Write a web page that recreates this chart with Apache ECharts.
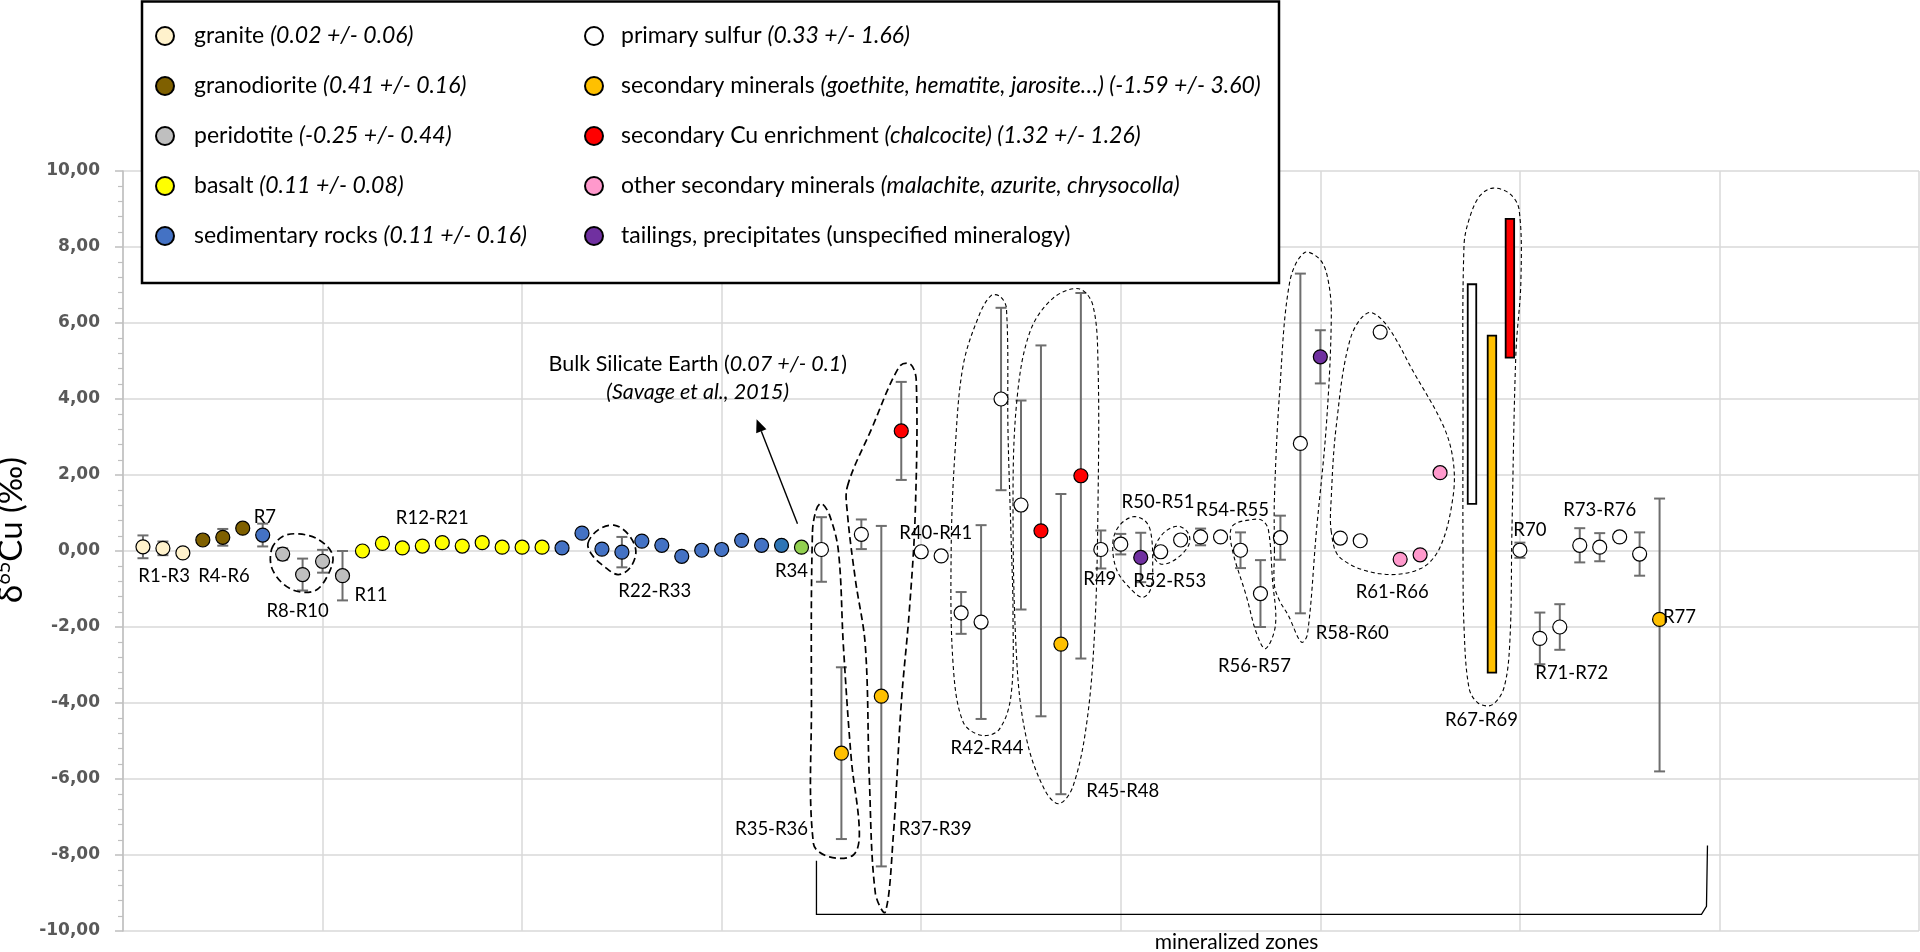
<!DOCTYPE html>
<html><head><meta charset="utf-8">
<script src="https://cdn.jsdelivr.net/npm/echarts@6/dist/echarts.min.js"></script>
<style>html,body{margin:0;padding:0;background:#fff}#c{width:1920px;height:952px}</style>
</head><body><div id="c"></div>
<script>
// ---------- data ----------
const yTickValues = [-10, -8, -6, -4, -2, 0, 2, 4, 6, 8, 10];

const graniteX = [1, 2, 3];
const graniteY = [0.11, 0.07, -0.05];
const graniteErr = [0.3, 0.18, 0];

const granodioriteX = [4, 5, 6];
const granodioriteY = [0.29, 0.36, 0.6];
const granodioriteErr = [0, 0.22, 0];

const peridotiteX = [8, 9, 10, 11];
const peridotiteY = [-0.08, -0.62, -0.27, -0.65];
const peridotiteErr = [0.15, 0.42, 0.3, 0.65];

const basaltX = [12, 13, 14, 15, 16, 17, 18, 19, 20, 21];
const basaltY = [0.0, 0.2, 0.08, 0.13, 0.22, 0.13, 0.22, 0.1, 0.1, 0.1];
const basaltErr = [0, 0, 0, 0, 0, 0, 0, 0, 0, 0];

const sedimentX = [7, 22, 23, 24, 25, 26, 27, 28, 29, 30, 31, 32, 33];
const sedimentY = [0.42, 0.08, 0.47, 0.05, -0.03, 0.26, 0.15, -0.14, 0.02, 0.04, 0.28, 0.15, 0.15];
const sedimentErr = [0.3, 0, 0, 0, 0.4, 0, 0, 0, 0, 0, 0, 0, 0];

const r34X = [34];
const r34Y = [0.1];
const r34Err = [0];

const sulfurX = [35, 37, 40, 41, 42, 43, 44, 45, 49, 50, 52, 53, 54, 55, 56, 57, 58, 59, 61, 62, 63, 70, 71, 72, 73, 74, 75, 76];
const sulfurY = [0.04, 0.44, -0.02, -0.13, -1.63, -1.87, 4.0, 1.21, 0.04, 0.18, -0.02, 0.29, 0.37, 0.37, 0.02, -1.12, 0.35, 2.83, 0.34, 0.27, 5.76, 0.02, -2.3, -2.0, 0.15, 0.1, 0.37, -0.08];
const sulfurErr = [0.85, 0.39, 0, 0, 0.55, 2.55, 2.4, 2.75, 0.5, 0.27, 0, 0, 0.22, 0, 0.47, 0.88, 0.58, 4.47, 0, 0, 0, 0.2, 0.68, 0.6, 0.45, 0.37, 0.12, 0.57];

const secondaryX = [36, 38, 47, 77];
const secondaryY = [-5.32, -3.82, -2.45, -1.8];
const secondaryErr = [2.26, 4.48, 3.95, 3.18];
const secondaryErrMinus = [2.26, 4.48, 3.95, 4.0];

const enrichX = [39, 46, 48];
const enrichY = [3.16, 0.53, 1.98];
const enrichErr = [1.29, 4.88, 4.81];

const otherX = [64, 65, 66];
const otherY = [-0.22, -0.1, 2.06];
const otherErr = [0, 0, 0];

const tailingsX = [51, 60];
const tailingsY = [-0.17, 5.11];
const tailingsErr = [0.65, 0.7];

// range bars R67-R69 : [x, low, high]
const sulfurRange = [[67.6, 1.24, 7.02]];
const secondaryRange = [[68.6, -3.2, 5.67]];
const enrichRange = [[69.5, 5.09, 8.74]];

// legend texts
const legendNames = ['granite', 'granodiorite', 'peridotite', 'basalt', 'sedimentary rocks',
  'primary sulfur', 'secondary minerals', 'secondary Cu enrichment', 'other secondary minerals',
  'tailings, precipitates (unspecified mineralogy)'];
const legendNotes = ['(0.02 +/- 0.06)', '(0.41 +/- 0.16)', '(-0.25 +/- 0.44)', '(0.11 +/- 0.08)', '(0.11 +/- 0.16)',
  '(0.33 +/- 1.66)', '(goethite, hematite, jarosite\u2026) (-1.59 +/- 3.60)', '(chalcocite) (1.32 +/- 1.26)',
  '(malachite, azurite, chrysocolla)', ''];

// annotation labels (placed in data space)
const zoneLabelText = ['R1-R3', 'R4-R6', 'R7', 'R8-R10', 'R11', 'R12-R21', 'R22-R33', 'R34', 'R35-R36', 'R37-R39',
  'R40-R41', 'R42-R44', 'R45-R48', 'R49', 'R50-R51', 'R52-R53', 'R54-R55', 'R56-R57', 'R58-R60', 'R61-R66',
  'R67-R69', 'R70', 'R71-R72', 'R73-R76', 'R77'];
const zoneLabelX = [2.06, 5.06, 7.11, 8.75, 12.43, 15.5, 26.65, 33.5, 32.5, 40.7,
  40.73, 43.3, 50.1, 48.95, 51.87, 52.45, 55.6, 56.7, 61.6, 63.6,
  68.07, 70.5, 72.6, 74.0, 78.0];
const zoneLabelY = [-0.65, -0.65, 0.9, -1.59, -1.17, 0.87, -1.05, -0.52, -7.32, -7.32,
  0.47, -5.18, -6.32, -0.75, 1.28, -0.8, 1.08, -3.02, -2.15, -1.08,
  -4.44, 0.54, -3.22, 1.09, -1.75];

// dashed group outlines (data space)
const loopOutlines = [
  [[7.45,0.05],[8.0,0.38],[8.8,0.45],[9.8,0.3],[10.5,-0.1],[10.3,-0.6],[9.6,-1.05],[8.4,-1.0],[7.5,-0.5]],
  [[23.3,0.2],[23.8,0.55],[24.6,0.68],[25.3,0.45],[25.7,0.0],[25.4,-0.45],[24.8,-0.62],[24.1,-0.4],[23.5,-0.1]],
  [[34.55,0.5],[34.75,1.1],[35.0,1.25],[35.4,0.95],[35.85,0.0],[36.1,-2.5],[36.5,-5.5],[36.9,-7.4],[36.6,-8.0],[35.4,-8.05],[34.6,-7.7],[34.5,-4.0]],
  [[36.3,1.7],[37.5,3.2],[38.9,4.85],[39.45,4.92],[39.75,4.5],[39.7,1.0],[39.4,-1.6],[39.0,-4.0],[38.6,-7.5],[38.2,-9.5],[37.7,-9.0],[37.4,-6.0],[37.2,-2.5],[36.7,-0.75],[36.3,1.0]],
  [[41.5,0],[41.7,2.67],[42.1,4.88],[42.9,6.2],[43.5,6.72],[43.95,6.7],[44.27,6.38],[44.35,3.1],[44.5,0.4],[44.6,-1.7],[44.5,-3.8],[43.9,-4.7],[43.0,-4.85],[42.1,-4.5],[41.6,-3.0]],
  [[44.6,1.3],[44.8,4.0],[45.45,5.77],[46.6,6.65],[47.9,6.9],[48.6,6.47],[48.86,4.88],[48.86,1.3],[48.7,-2.0],[48.3,-4.5],[47.6,-6.2],[46.9,-6.65],[46.2,-6.3],[45.3,-5.0],[44.8,-3.0]],
  [[49.6,0.2],[49.9,0.65],[50.6,0.9],[51.2,0.8],[51.5,0.5],[51.6,-0.3],[51.5,-1.0],[51.1,-1.22],[50.5,-1.0],[49.8,-0.5]],
  [[51.7,0.1],[52.2,0.5],[52.9,0.65],[53.4,0.45],[53.4,0.15],[52.8,-0.2],[52.1,-0.35],[51.7,-0.2]],
  [[55.6,0.66],[56.6,0.83],[57.1,0.8],[57.4,0.55],[57.6,-0.75],[57.75,-1.95],[57.25,-2.57],[56.8,-2.16],[56.3,-1.2],[55.55,0.13]],
  [[57.7,0],[57.7,1.4],[57.97,4.26],[58.47,7.09],[59.2,7.85],[60.0,7.66],[60.4,7.1],[60.55,6.15],[60.3,3.3],[59.8,0.5],[59.35,-2.2],[59.05,-2.4],[58.4,-1.7],[57.95,-1.3],[57.7,-0.9]],
  [[60.55,0.5],[60.55,1.43],[60.8,3.3],[61.5,5.58],[62.4,6.27],[63.3,5.96],[64.65,4.73],[66.15,3.31],[66.65,2.4],[66.65,1.43],[66.0,0.1],[65.0,-0.47],[63.0,-0.6],[61.0,-0.18]],
  [[67.15,0],[67.15,3.3],[67.2,8.04],[67.5,8.8],[68.0,9.35],[68.65,9.55],[69.5,9.4],[69.96,8.98],[70.05,7.1],[69.8,5.2],[69.6,0.5],[69.5,-2.35],[69.2,-3.6],[68.6,-4.05],[67.9,-4.0],[67.45,-3.6],[67.2,-2.0]]
];
const bseTextPos = [28.8, 4.55];
const arrowFrom = [33.8, 0.72];
const arrowTo = [31.75, 3.47];
const bracePoints = [[34.75,-8.15],[34.75,-9.56],[79.1,-9.56],[79.35,-9.35],[79.4,-7.75]];
const zonesTextPos = [55.8, -10.29];

// ---------- styles ----------
const FONT = 'Lato';
const cats = [
  {name: legendNames[0], x: graniteX, y: graniteY, err: graniteErr, color: '#FFF2CC'},
  {name: legendNames[1], x: granodioriteX, y: granodioriteY, err: granodioriteErr, color: '#7F6000'},
  {name: legendNames[2], x: peridotiteX, y: peridotiteY, err: peridotiteErr, color: '#BFBFBF'},
  {name: legendNames[3], x: basaltX, y: basaltY, err: basaltErr, color: '#FFFF00'},
  {name: legendNames[4], x: sedimentX, y: sedimentY, err: sedimentErr, color: '#4472C4'},
  {name: legendNames[5], x: sulfurX, y: sulfurY, err: sulfurErr, color: '#FFFFFF'},
  {name: legendNames[6], x: secondaryX, y: secondaryY, err: secondaryErr, errMinus: secondaryErrMinus, color: '#FFC000'},
  {name: legendNames[7], x: enrichX, y: enrichY, err: enrichErr, color: '#FF0000'},
  {name: legendNames[8], x: otherX, y: otherY, err: otherErr, color: '#FF99CC'},
  {name: legendNames[9], x: tailingsX, y: tailingsY, err: tailingsErr, color: '#7030A0'},
  {name: 'R34', x: r34X, y: r34Y, err: r34Err, color: '#92D050'}
];
const ranges = [
  {name: legendNames[5], data: sulfurRange, color: '#FFFFFF'},
  {name: legendNames[6], data: secondaryRange, color: '#FFC000'},
  {name: legendNames[7], data: enrichRange, color: '#FF0000'}
];

const errData = [];
cats.forEach(c => c.x.forEach((x, i) => {
  const plus = c.err[i], minus = c.errMinus ? c.errMinus[i] : c.err[i];
  if (plus > 0) errData.push([x, c.y[i] - minus, c.y[i] + plus]);
}));

function renderErr(params, api) {
  const x = api.value(0);
  const p1 = api.coord([x, api.value(2)]);
  const p2 = api.coord([x, api.value(1)]);
  const w = 5.5;
  const st = {stroke: '#6e6e6e', lineWidth: 2};
  return {type: 'group', children: [
    {type: 'line', shape: {x1: p1[0], y1: p1[1], x2: p2[0], y2: p2[1]}, style: st},
    {type: 'line', shape: {x1: p1[0] - w, y1: p1[1], x2: p1[0] + w, y2: p1[1]}, style: st},
    {type: 'line', shape: {x1: p2[0] - w, y1: p2[1], x2: p2[0] + w, y2: p2[1]}, style: st}
  ]};
}
function makeRangeRender(color) {
  return function (params, api) {
    const x = api.value(0);
    const top = api.coord([x, api.value(2)]);
    const bot = api.coord([x, api.value(1)]);
    const w = 8.5;
    return {type: 'rect', shape: {x: top[0] - w / 2, y: top[1], width: w, height: bot[1] - top[1]},
      style: {fill: color, stroke: '#000', lineWidth: 1.8}};
  };
}
function renderLoop(params, api) {
  const i = params.dataIndex;
  const pts = loopOutlines[i].map(p => api.coord(p));
  const thick = i < 4;
  return {type: 'polygon', silent: true, shape: {points: pts, smooth: 0.35},
    style: {fill: 'none', stroke: '#000', lineWidth: thick ? 1.7 : 1.1, lineDash: thick ? [7, 4] : [4, 3]}};
}
function renderLabel(params, api) {
  const i = params.dataIndex;
  const p = api.coord([zoneLabelX[i], zoneLabelY[i]]);
  return {type: 'text', x: p[0], y: p[1], silent: true,
    style: {text: zoneLabelText[i], fill: '#000', fontFamily: FONT, fontSize: 18.5, align: 'center', verticalAlign: 'middle'}};
}
function renderAnno(params, api) {
  const t = api.coord(bseTextPos);
  const a0 = api.coord(arrowFrom), a1 = api.coord(arrowTo);
  const dx = a1[0] - a0[0], dy = a1[1] - a0[1], L = Math.hypot(dx, dy);
  const ux = dx / L, uy = dy / L, hl = 13, hw = 5.5;
  const bx = a1[0] - ux * hl, by = a1[1] - uy * hl;
  const brace = bracePoints.map(p => api.coord(p));
  const z = api.coord(zonesTextPos);
  return {type: 'group', silent: true, children: [
    {type: 'text', x: t[0], y: t[1], style: {
      text: '{n|Bulk Silicate Earth (}{i|0.07 +/- 0.1}{n|)}\n{i|(Savage et al., 2015)}',
      align: 'center', verticalAlign: 'middle', fill: '#000',
      rich: {n: {fontFamily: FONT, fontSize: 21.5, lineHeight: 28, fill: '#000'},
             i: {fontFamily: FONT, fontSize: 21.5, lineHeight: 28, fontStyle: 'italic', fill: '#000'}}}},
    {type: 'line', shape: {x1: a0[0], y1: a0[1], x2: bx, y2: by}, style: {stroke: '#000', lineWidth: 1.4}},
    {type: 'polygon', shape: {points: [[a1[0], a1[1]], [bx - uy * hw, by + ux * hw], [bx + uy * hw, by - ux * hw]]}, style: {fill: '#000'}},
    {type: 'polyline', shape: {points: brace, smooth: 0}, style: {fill: 'none', stroke: '#000', lineWidth: 1.3}},
    {type: 'text', x: z[0], y: z[1], style: {text: 'mineralized zones', fill: '#000', fontFamily: FONT, fontSize: 21, align: 'center', verticalAlign: 'middle'}}
  ]};
}

const series = [];
series.push({type: 'custom', name: 'errors', renderItem: renderErr, data: errData, z: 2, silent: true, encode: {x: 0, y: [1, 2]}});
cats.forEach(c => {
  series.push({type: 'scatter', name: c.name, symbol: 'circle', symbolSize: 14, z: 3,
    itemStyle: {color: c.color, borderColor: '#000', borderWidth: 1.2, opacity: 1},
    data: c.x.map((x, i) => {
      const d = {value: [x, c.y[i]]};
      if (c.name === 'sedimentary rocks' && x === 33) d.itemStyle = {color: '#2E75B6'};
      return d;
    })});
});
ranges.forEach(r => {
  series.push({type: 'custom', name: r.name, renderItem: makeRangeRender(r.color), data: r.data, z: 3,
    itemStyle: {color: r.color, borderColor: '#000', borderWidth: 1.2}, encode: {x: 0, y: [1, 2]}});
});
series.push({type: 'custom', name: 'outlines', renderItem: renderLoop, data: loopOutlines.map(p => [p[0][0], p[0][1]]), z: 4, silent: true});
series.push({type: 'custom', name: 'labels', renderItem: renderLabel, data: zoneLabelText.map((t, i) => [zoneLabelX[i], zoneLabelY[i]]), z: 5, silent: true});
series.push({type: 'custom', name: 'annotations', renderItem: renderAnno, data: [[bseTextPos[0], bseTextPos[1]]], z: 5, silent: true, clip: false});

function legendRich(pad) {
  return {
    p: {width: pad},
    n: {fontFamily: FONT, fontSize: 23, lineHeight: 26, color: '#000'},
    i: {fontFamily: FONT, fontSize: 23, lineHeight: 26, color: '#000', fontStyle: 'italic'}
  };
}
function legendFmt(name) {
  const k = legendNames.indexOf(name);
  const note = legendNotes[k];
  return '{p| }{n|' + name + (note ? ' ' : '') + '}' + (note ? '{i|' + note + '}' : '');
}
const legendCommon = {orient: 'vertical', itemWidth: 18, itemHeight: 18, itemGap: 24, top: 23, padding: 0, z: 110,
  icon: 'circle', formatter: legendFmt, selectedMode: false};

const option = {
  animation: false,
  backgroundColor: '#fff',
  grid: {left: 123, right: 1, top: 171, bottom: 21, containLabel: false, outerBoundsMode: 'none'},
  xAxis: {type: 'value', min: 0, max: 90, interval: 10,
    axisLine: {show: false}, axisTick: {show: false}, axisLabel: {show: false},
    splitLine: {show: true, lineStyle: {color: '#d9d9d9', width: 1.5}}},
  yAxis: {type: 'value', min: yTickValues[0], max: yTickValues[yTickValues.length - 1], interval: 2,
    name: '{d|\u03b4}{s|65}{d|Cu (\u2030)}', nameLocation: 'middle', nameGap: 86,
    nameTextStyle: {padding: [0, 0, 0, 42], rich: {
      d: {fontFamily: FONT, fontSize: 33, lineHeight: 36, color: '#000'},
      s: {fontFamily: FONT, fontSize: 20, lineHeight: 23, color: '#000', verticalAlign: 'top'}}},
    axisLine: {show: true, lineStyle: {color: '#bfbfbf', width: 1.5}},
    axisTick: {show: true, length: 8, lineStyle: {color: '#bfbfbf', width: 1.5}},
    minorTick: {show: true, splitNumber: 5, length: 5, lineStyle: {color: '#bfbfbf', width: 1.2}},
    axisLabel: {margin: 23, color: '#595959', fontFamily: 'DejaVu Sans', fontWeight: 'bold', fontSize: 17,
      formatter: v => v.toFixed(2).replace('.', ',')},
    splitLine: {show: true, lineStyle: {color: '#d9d9d9', width: 1.5}}},
  legend: [
    Object.assign({}, legendCommon, {left: 155, data: legendNames.slice(0, 5), textStyle: {rich: legendRich(15), lineHeight: 26}}),
    Object.assign({}, legendCommon, {left: 584, data: legendNames.slice(5), textStyle: {rich: legendRich(13), lineHeight: 26}})
  ],
  graphic: {elements: [
    {type: 'rect', z: 100, silent: true, shape: {x: 142, y: 1.5, width: 1137, height: 281.5},
      style: {fill: '#fff', stroke: '#000', lineWidth: 2.5}}
  ]},
  series: series
};
const chart = echarts.init(document.getElementById('c'));
chart.setOption(option);
</script></body></html>
